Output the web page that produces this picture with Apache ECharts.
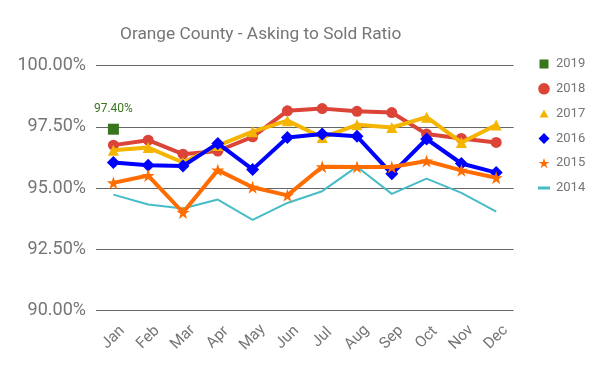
<!DOCTYPE html>
<html><head><meta charset="utf-8">
<script src="https://cdn.jsdelivr.net/npm/echarts@6/dist/echarts.min.js"></script>
<style>html,body{margin:0;padding:0;background:#fff}#c{width:600px;height:371px}</style>
</head><body><div id="c"></div>
<script>
const months = ['Jan','Feb','Mar','Apr','May','Jun','Jul','Aug','Sep','Oct','Nov','Dec'];
const yTicks = [90, 92.5, 95, 97.5, 100];
const s2019 = [97.40, null, null, null, null, null, null, null, null, null, null, null];
const s2018 = [96.75, 96.95, 96.38, 96.51, 97.09, 98.15, 98.24, 98.13, 98.08, 97.20, 97.02, 96.86];
const s2017 = [96.54, 96.65, 96.04, 96.73, 97.30, 97.75, 97.06, 97.58, 97.47, 97.89, 96.86, 97.57];
const s2016 = [96.04, 95.93, 95.90, 96.82, 95.76, 97.06, 97.20, 97.11, 95.58, 97.00, 96.00, 95.63];
const s2015 = [95.21, 95.51, 94.00, 95.73, 95.03, 94.70, 95.87, 95.86, 95.86, 96.10, 95.72, 95.42];
const s2014 = [94.73, 94.33, 94.16, 94.53, 93.70, 94.39, 94.87, 95.87, 94.76, 95.38, 94.80, 94.04];

const grey = '#757575';
const chart = echarts.init(document.getElementById('c'), null, {renderer:'canvas'});
const starPath = 'path://M50,0 L61.8,35.4 L99,35.4 L69,57.3 L80.3,92.7 L50,70.8 L19.7,92.7 L31,57.3 L1,35.4 L38.2,35.4 Z';
const box = 'M0,0L0.001,0L0,0.001Z M14,14L13.999,14L14,13.999Z ';
const starIcon = 'path://M-13.6,-13.6L-13.59,-13.6L-13.6,-13.59Z M113.6,113.6L113.59,113.6L113.6,113.59Z M50,3 L61.8,38.4 L99,38.4 L69,60.3 L80.3,95.7 L50,73.8 L19.7,95.7 L31,60.3 L1,38.4 L38.2,38.4 Z';
chart.setOption({
  animation: false,
  title: {
    text: 'Orange County - Asking to Sold Ratio',
    left: 115, top: 21,
    textStyle: {color: grey, fontSize: 17.3, fontWeight: 'normal', fontFamily: 'Roboto'}
  },
  legend: {
    orient: 'vertical', left: 532, top: 52, itemGap: 10.8, itemWidth: 14, itemHeight: 14,
    textStyle: {color: grey, fontSize: 13, fontFamily: 'Roboto'},
    data: [
      {name:'2019', icon:'path://' + box + 'M2.5,2.5L11.5,2.5L11.5,11.5L2.5,11.5Z'},
      {name:'2018', icon:'path://' + box + 'M7,1.2A5.8,5.8,0,1,1,6.99,1.2Z'},
      {name:'2017', icon:'path://' + box + 'M7,3L11.5,11L2.5,11Z'},
      {name:'2016', icon:'path://' + box + 'M7,1.5L12.5,7L7,12.5L1.5,7Z'},
      {name:'2015', icon:starIcon},
      {name:'2014', icon:'path://' + box + 'M1,5.5L13,5.5L13,8.5L1,8.5Z'}
    ]
  },
  grid: {left: 96, right: 86.4, top: 65.5, bottom: 60.5},
  xAxis: {
    type: 'category', data: months, boundaryGap: true,
    axisLine: {show: false}, axisTick: {show: false},
    axisLabel: {rotate: 45, color: grey, fontSize: 15.5, fontFamily: 'Roboto', margin: 27,
      align: 'center', verticalAlign: 'middle'}
  },
  yAxis: {
    type: 'value', min: yTicks[0], max: yTicks[yTicks.length-1], interval: 2.5,
    axisLine: {show: false}, axisTick: {show: false},
    splitLine: {lineStyle: {color: '#666', width: 1}},
    axisLabel: {color: grey, fontSize: 18, fontFamily: 'Roboto', margin: 10,
      formatter: v => v.toFixed(2) + '%'}
  },
  series: [
    {name:'2014', type:'line', data:s2014, z:2, symbol:'none', showSymbol:false,
     lineStyle:{color:'#46bdc6', width:2}, itemStyle:{color:'#46bdc6'}},
    {name:'2019', type:'line', data:s2019, z:8, symbol:'rect', symbolSize:11,
     itemStyle:{color:'#38761d'},
     label:{show:true, position:'top', distance:9, color:'#38761d', fontSize:12, fontFamily:'Roboto',
       formatter: p => p.value.toFixed(2) + '%'}},
    {name:'2018', type:'line', data:s2018, z:3, symbol:'circle', symbolSize:11,
     lineStyle:{color:'#db4437', width:4}, itemStyle:{color:'#db4437'}},
    {name:'2017', type:'line', data:s2017, z:4, symbol:'triangle', symbolSize:11,
     lineStyle:{color:'#f4b400', width:4}, itemStyle:{color:'#f4b400'}},
    {name:'2016', type:'line', data:s2016, z:5, symbol:'diamond', symbolSize:13,
     lineStyle:{color:'#0000ff', width:4}, itemStyle:{color:'#0000ff'}},
    {name:'2015', type:'line', data:s2015, z:6, symbol:starPath, symbolSize:13,
     lineStyle:{color:'#ff6d00', width:4}, itemStyle:{color:'#ff6d00'}}
  ]
});
</script></body></html>
